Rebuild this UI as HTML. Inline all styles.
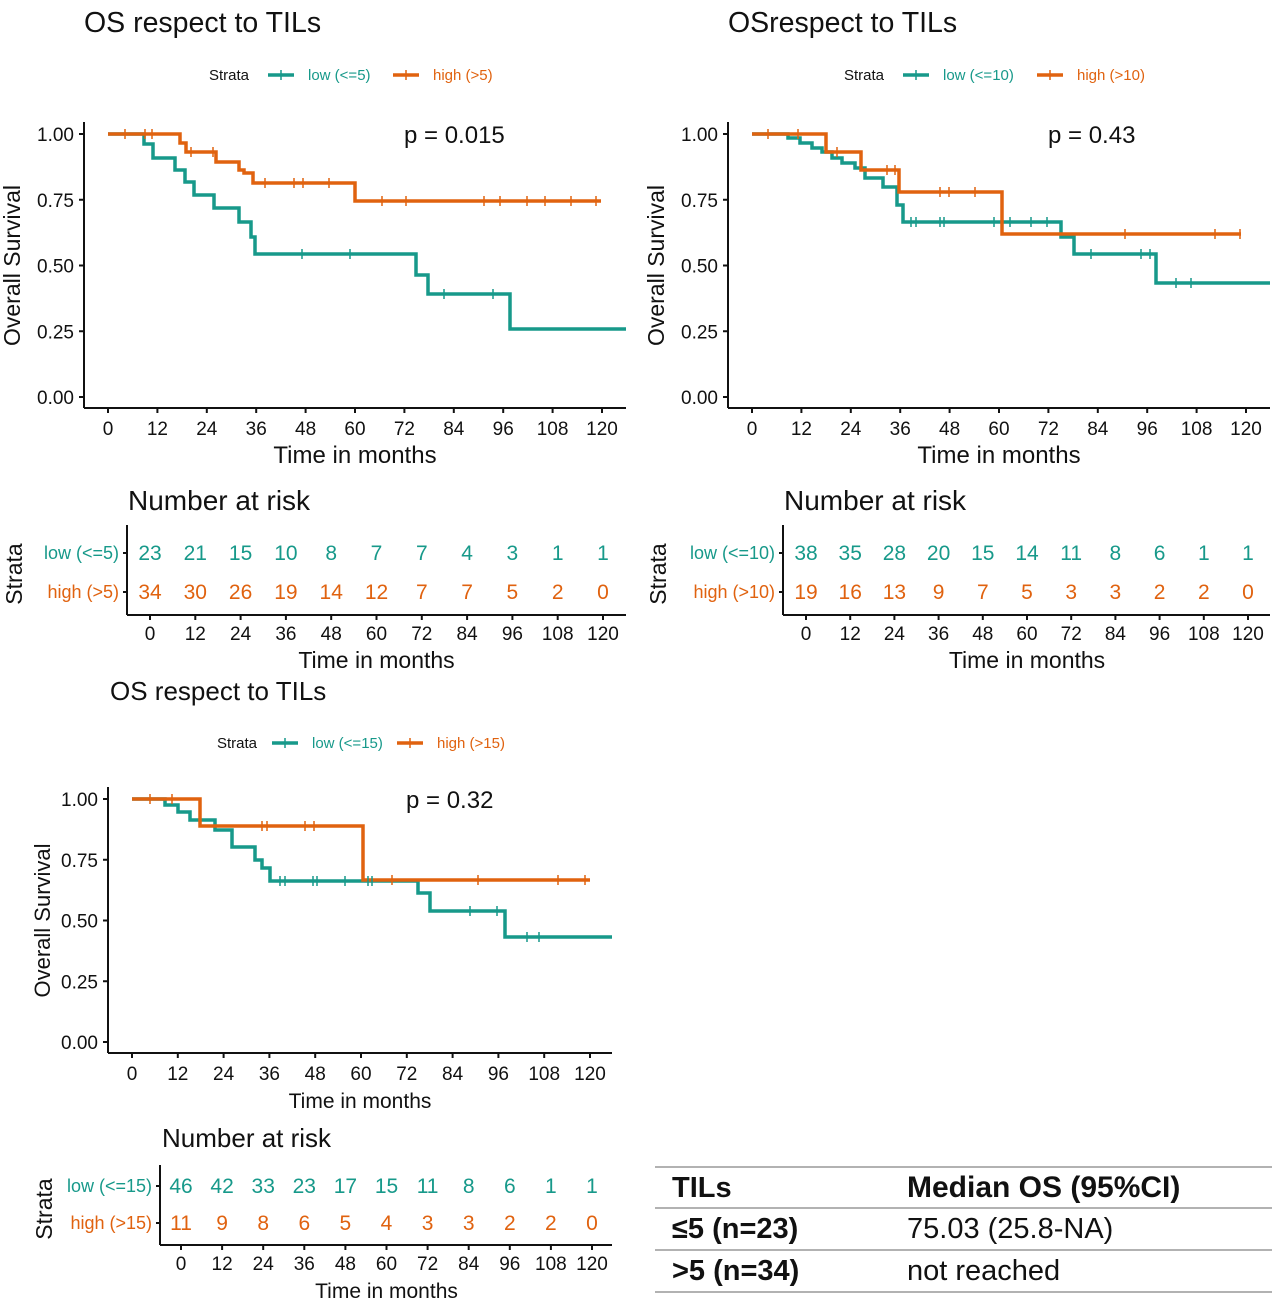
<!DOCTYPE html>
<html><head><meta charset="utf-8"><style>
html,body{margin:0;padding:0;background:#fff;}
svg{display:block;font-family:"Liberation Sans",Arial,sans-serif;}
</style></head><body>
<svg id="s" width="1284" height="1302" viewBox="0 0 1284 1302" xmlns="http://www.w3.org/2000/svg">
<rect width="1284" height="1302" fill="#fff"/>
</svg>
<script>
const S=document.getElementById('s');const NS='http://www.w3.org/2000/svg';
const T='#17998a',O='#e0620f',K='#111';
function el(n,a,txt){const e=document.createElementNS(NS,n);for(const k in a)e.setAttribute(k,a[k]);if(txt!==undefined)e.textContent=txt;S.appendChild(e);return e;}
function tx(x,y,s,size,opt={}){return el('text',{x:x,y:y,'font-size':size,fill:opt.fill||K,'text-anchor':opt.anchor||'start','font-weight':opt.bold?'bold':'normal',transform:opt.rot?`rotate(-90 ${x} ${y})`:''},s);}
function line(x1,y1,x2,y2,c,w){el('line',{x1,y1,x2,y2,stroke:c,'stroke-width':w});}
function step(x0,segs,c){let d='M'+x0+' '+segs[0][1];for(let i=0;i<segs.length;i++){d+=' H'+segs[i][0];if(i+1<segs.length)d+=' V'+segs[i+1][1];}el('path',{d:d,fill:'none',stroke:c,'stroke-width':3.5});}
function lv(segs,x){for(const s of segs){if(x<=s[0])return s[1];}return segs[segs.length-1][1];}
function cens(xs,segs,c){xs.forEach(x=>{const y=lv(segs,x);line(x,y-5,x,y+5,c,1.5);});}
function panel(o){
 tx(o.tx,32+o.dy,o.title,o.ts);
 tx(o.lg[0],80+o.dy,'Strata',15);
 line(o.lg[1],75+o.dy,o.lg[1]+26,75+o.dy,T,3.5);line(o.lg[1]+13,70+o.dy,o.lg[1]+13,80+o.dy,T,1.5);
 tx(o.lg[1]+40,80+o.dy,o.lows,15,{fill:T});
 line(o.lg[2],75+o.dy,o.lg[2]+26,75+o.dy,O,3.5);line(o.lg[2]+13,70+o.dy,o.lg[2]+13,80+o.dy,O,1.5);
 tx(o.lg[2]+40,80+o.dy,o.highs,15,{fill:O});
 line(o.ax,o.y1-12,o.ax,o.xa,K,2);line(o.ax,o.xa,o.axr,o.xa,K,2);
 const labs=['1.00','0.75','0.50','0.25','0.00'];
 for(let i=0;i<5;i++){const y=o.y1+(o.y0-o.y1)*i/4;line(o.ax-5,y,o.ax,y,K,2);tx(o.ax-10,y+7,labs[i],19,{anchor:'end'});}
 for(let i=0;i<=10;i++){const x=o.x0+(o.x120-o.x0)*i/10;line(x,o.xa,x,o.xa+5,K,2);tx(x,o.xa+27,String(i*12),19,{anchor:'middle'});}
 tx((o.ax+o.axr)/2,o.xa+55,'Time in months',o.ms,{anchor:'middle'});
 tx(o.ytx,(o.y1+o.y0)/2,'Overall Survival',o.ys,{anchor:'middle',rot:1});
 tx(o.px,o.y1+9,o.p,24);
 step(o.x0,o.teal,T);step(o.x0,o.orange,O);
 cens(o.tc,o.teal,T);cens(o.oc,o.orange,O);
 const r=o.r;
 tx(r.tx,r.ty,'Number at risk',o.ns);
 line(r.ax,r.top,r.ax,r.xa,K,2);line(r.ax,r.xa,r.axr,r.xa,K,2);
 tx(r.sx,(r.top+r.xa)/2+4,'Strata',23,{anchor:'middle',rot:1});
 tx(r.ax-8,r.y1,o.lows,18,{anchor:'end',fill:T});tx(r.ax-8,r.y2,o.highs,18,{anchor:'end',fill:O});
 line(r.ax-4,r.y1-6,r.ax,r.y1-6,K,2);line(r.ax-4,r.y2-6,r.ax,r.y2-6,K,2);
 for(let i=0;i<=10;i++){const x=r.x0+(r.x120-r.x0)*i/10;
  tx(x,r.y1+1,String(r.lo[i]),21,{anchor:'middle',fill:T});
  tx(x,r.y2+1,String(r.hi[i]),21,{anchor:'middle',fill:O});
  line(x,r.xa,x,r.xa+5,K,2);tx(x,r.xa+25,String(i*12),19,{anchor:'middle'});}
 tx((r.x0+r.x120)/2,r.xa+53,'Time in months',o.ms2,{anchor:'middle'});
}
panel({tx:84,dy:0,ts:28.5,ms:24,ys:23,ns:28,ms2:23,title:'OS respect to TILs',lg:[209,268,393],lows:'low (<=5)',highs:'high (>5)',
 ax:84,axr:626,xa:408,y1:134,y0:397,x0:108,x120:602,ytx:20,px:404,p:'p = 0.015',
 teal:[[144,134],[153,144],[175,158],[185,170],[194,182],[214,195],[239,208],[251,222],[255,237],[416,254],[428,275],[510,294],[626,329]],
 orange:[[180,134],[186,143],[216,152],[239,162],[244,170],[253,173],[355,183],[601,201]],
 tc:[302,350,444,493],oc:[125,145,152,191,213,265,294,303,329,382,406,484,500,527,545,571,596],
 r:{tx:128,ty:510,ax:127,axr:626,top:525,xa:615,sx:22,y1:559,y2:598,x0:150,x120:603,
  lo:[23,21,15,10,8,7,7,4,3,1,1],hi:[34,30,26,19,14,12,7,7,5,2,0]}});
panel({tx:728,dy:0,ts:28.5,ms:24,ys:23,ns:28,ms2:23,title:'OSrespect to TILs',lg:[844,903,1037],lows:'low (<=10)',highs:'high (>10)',
 ax:728,axr:1270,xa:408,y1:134,y0:397,x0:752,x120:1246,ytx:664,px:1048,p:'p = 0.43',
 teal:[[788,134],[800,138],[812,143],[822,148],[832,152],[842,158],[855,163],[865,168],[883,178],[897,187],[903,205],[1061,222],[1074,237],[1156,254],[1270,283]],
 orange:[[826,134],[861,152],[899,170],[1002,192],[1241,234]],
 tc:[911,916,940,944,994,1010,1031,1047,1091,1141,1150,1176,1191],oc:[768,798,837,887,895,940,949,975,1125,1215,1240],
 r:{tx:784,ty:510,ax:783,axr:1270,top:525,xa:615,sx:666,y1:559,y2:598,x0:806,x120:1248,
  lo:[38,35,28,20,15,14,11,8,6,1,1],hi:[19,16,13,9,7,5,3,3,2,2,0]}});
panel({tx:110,dy:668,ts:26,ms:21,ys:22,ns:26,ms2:21,title:'OS respect to TILs',lg:[217,272,397],lows:'low (<=15)',highs:'high (>15)',
 ax:108,axr:612,xa:1053,y1:799,y0:1042,x0:132,x120:590,ytx:50,px:406,p:'p = 0.32',
 teal:[[165,799],[178,805],[190,812],[215,820],[232,830],[255,847],[262,860],[270,868],[418,881],[430,893],[505,911],[612,937]],
 orange:[[200,799],[363,826],[590,880]],
 tc:[280,285,313,317,345,368,372,470,497,527,539],oc:[150,172,262,267,305,314,392,478,558,585],
 r:{tx:162,ty:1147,ax:160,axr:612,top:1165,xa:1245,sx:52,y1:1192,y2:1229,x0:181,x120:592,
  lo:[46,42,33,23,17,15,11,8,6,1,1],hi:[11,9,8,6,5,4,3,3,2,2,0]}});
[1167,1208,1250,1292].forEach(y=>line(655,y,1272,y,'#999',1.5));
tx(672,1197,'TILs',29,{bold:1});tx(907,1197,'Median OS (95%CI)',30,{bold:1});
tx(672,1238,'≤5 (n=23)',29,{bold:1});tx(907,1238,'75.03 (25.8-NA)',29);
tx(672,1280,'>5 (n=34)',29,{bold:1});tx(907,1280,'not reached',29);
</script>
</body></html>
